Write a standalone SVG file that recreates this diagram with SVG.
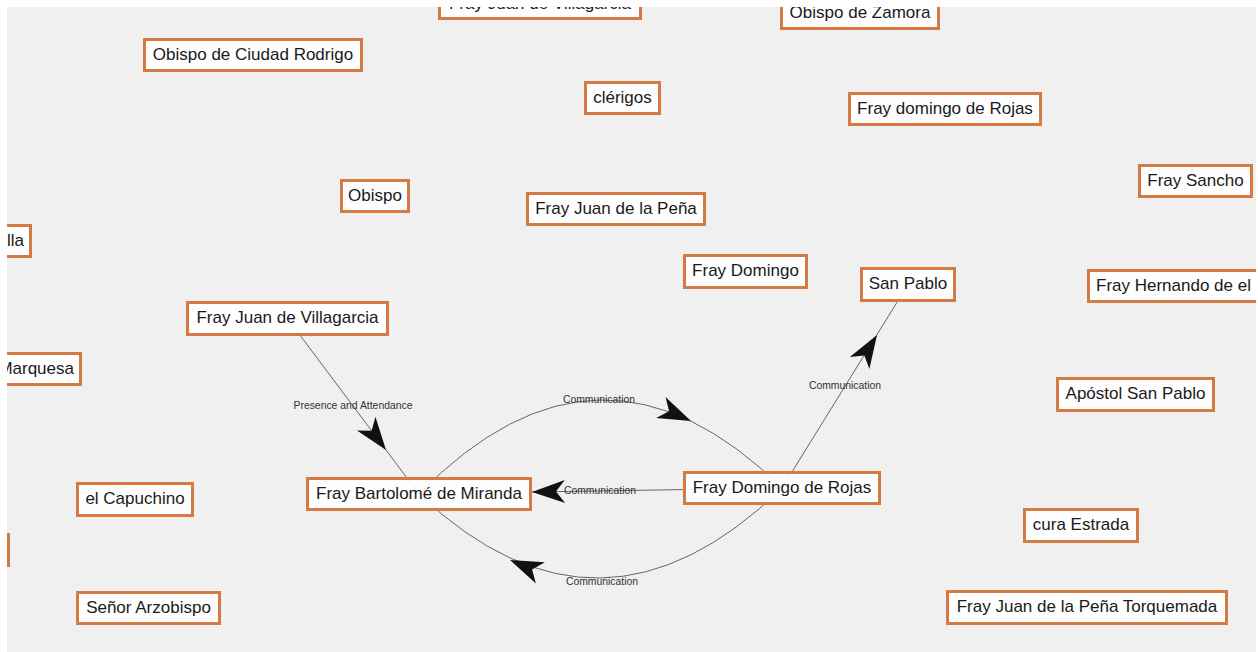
<svg xmlns="http://www.w3.org/2000/svg" width="1258" height="652" viewBox="0 0 1258 652">
<defs>
<style>
.nd rect{fill:#ffffff;fill-opacity:0.9;stroke:#d57a44;stroke-width:3}
.nd text{font-family:"Liberation Sans",Arial,sans-serif;font-size:17px;fill:#1a1a1a;text-anchor:middle}
.ed{fill:none;stroke:#555555;stroke-width:0.9}
.lb{font-family:"Liberation Sans",Arial,sans-serif;font-size:10.4px;fill:#333333;text-anchor:middle}
.ah{fill:#111111}
</style>
<clipPath id="vp"><rect x="7" y="7" width="1249" height="645"/></clipPath>
<path id="arr" d="M0,0 L-33,-11.5 L-24,0 L-33,11.5 Z"/>
</defs>
<rect x="0" y="0" width="1258" height="652" fill="#ffffff"/>
<rect x="7" y="7" width="1249" height="645" fill="#f0f0f0"/>
<g clip-path="url(#vp)">
<g id="connectors">
<line class="ed" x1="287.5" y1="318.5" x2="419" y2="494"/>
<line class="ed" x1="782" y1="488" x2="908" y2="284.5"/>
<line class="ed" x1="782" y1="488" x2="532" y2="492"/>
<path class="ed" d="M419,494 Q600,309 782,488"/>
<path class="ed" d="M782,488 Q600,665 419,494"/>
<use href="#arr" class="ah" transform="translate(386,450) rotate(53.2)"/>
<use href="#arr" class="ah" transform="translate(877,335) rotate(-58.2)"/>
<use href="#arr" class="ah" transform="translate(532,492) rotate(179)"/>
<use href="#arr" class="ah" transform="translate(691,421) rotate(24)"/>
<use href="#arr" class="ah" transform="translate(510,560) rotate(203)"/>
<text class="lb" x="353" y="409">Presence and Attendance</text>
<text class="lb" x="845" y="389">Communication</text>
<text class="lb" x="600" y="494">Communication</text>
<text class="lb" x="599" y="403">Communication</text>
<text class="lb" x="602" y="585">Communication</text>
</g>
<g id="n1" class="nd"><rect x="144.5" y="39.5" width="217" height="31"/><text x="253" y="60">Obispo de Ciudad Rodrigo</text></g>
<g id="n2" class="nd"><rect x="439.5" y="-13.5" width="201" height="32"/><text x="540" y="9">Fray Juan de Villagarcia</text></g>
<g id="n3" class="nd"><rect x="781.5" y="-3.5" width="157" height="32"/><text x="860" y="18">Obispo de Zamora</text></g>
<g id="n4" class="nd"><rect x="585.5" y="82.5" width="74" height="31"/><text x="622.5" y="103">clérigos</text></g>
<g id="n5" class="nd"><rect x="849.5" y="93.5" width="191" height="31"/><text x="945" y="114">Fray domingo de Rojas</text></g>
<g id="n6" class="nd"><rect x="1139.5" y="165.5" width="112" height="31"/><text x="1195.5" y="186">Fray Sancho</text></g>
<g id="n7" class="nd"><rect x="341.5" y="180.5" width="67" height="31"/><text x="375" y="201">Obispo</text></g>
<g id="n8" class="nd"><rect x="527.5" y="193.5" width="177" height="31"/><text x="616" y="214">Fray Juan de la Peña</text></g>
<g id="n9" class="nd"><rect x="-60" y="225.5" width="90.5" height="31"/><text x="24" y="246" style="text-anchor:end">lla</text></g>
<g id="n10" class="nd"><rect x="684.5" y="255.5" width="122" height="32"/><text x="745.5" y="276">Fray Domingo</text></g>
<g id="n11" class="nd"><rect x="861.5" y="268.5" width="93" height="32"/><text x="908" y="289">San Pablo</text></g>
<g id="n12" class="nd"><rect x="1088.5" y="270.5" width="200" height="31"/><text x="1096" y="291" style="text-anchor:start">Fray Hernando de el</text></g>
<g id="n13" class="nd"><rect x="187.5" y="302.5" width="200" height="32"/><text x="287.5" y="323">Fray Juan de Villagarcia</text></g>
<g id="n14" class="nd"><rect x="-20" y="353.5" width="100.5" height="31"/><text x="74" y="374" style="text-anchor:end">Marquesa</text></g>
<g id="n15" class="nd"><rect x="1057.5" y="378.5" width="156" height="32"/><text x="1135.5" y="399">Apóstol San Pablo</text></g>
<g id="n16" class="nd"><rect x="307.5" y="478.5" width="223" height="31"/><text x="419" y="499">Fray Bartolomé de Miranda</text></g>
<g id="n17" class="nd"><rect x="684.5" y="472.5" width="195" height="31"/><text x="782" y="493">Fray Domingo de Rojas</text></g>
<g id="n18" class="nd"><rect x="77.5" y="483.5" width="115" height="32"/><text x="135" y="504">el Capuchino</text></g>
<g id="n19" class="nd"><rect x="-60" y="534.5" width="68.5" height="31"/></g>
<g id="n20" class="nd"><rect x="77.5" y="592.5" width="142" height="31"/><text x="148.5" y="613">Señor Arzobispo</text></g>
<g id="n21" class="nd"><rect x="1024.5" y="509.5" width="113" height="32"/><text x="1081" y="530">cura Estrada</text></g>
<g id="n22" class="nd"><rect x="947.5" y="591.5" width="279" height="32"/><text x="1087" y="612">Fray Juan de la Peña Torquemada</text></g>
</g>
</svg>
